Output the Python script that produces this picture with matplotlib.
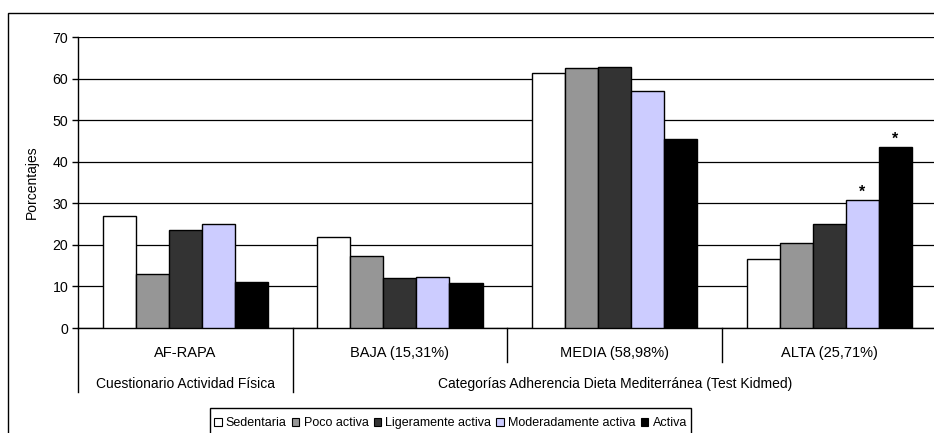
import matplotlib
matplotlib.use("Agg")
import matplotlib.pyplot as plt
from matplotlib.patches import Rectangle
from matplotlib.lines import Line2D
import numpy as np

plt.rcParams['font.family'] = ['Liberation Sans', 'DejaVu Sans']

groups = ["AF-RAPA", "BAJA (15,31%)", "MEDIA (58,98%)", "ALTA (25,71%)"]
series = ["Sedentaria", "Poco activa", "Ligeramente activa", "Moderadamente activa", "Activa"]
sedentaria = [26.9, 21.8, 61.3, 16.5]
poco_activa = [12.9, 17.2, 62.5, 20.4]
ligeramente = [23.6, 12.0, 62.9, 24.9]
moderadamente = [25.1, 12.2, 56.9, 30.7]
activa = [11.1, 10.9, 45.5, 43.5]
values = [sedentaria, poco_activa, ligeramente, moderadamente, activa]
colors = ["#FFFFFF", "#969696", "#333333", "#CCCCFF", "#000000"]
yticks = [0, 10, 20, 30, 40, 50, 60, 70]
# significance markers: (series index, group index)
stars = [(3, 3), (4, 3)]
level2 = [("Cuestionario Actividad Física", 0.0), ("Categorías Adherencia Dieta Mediterránea (Test Kidmed)", 2.0)]

W, H = 934, 433
fig = plt.figure(figsize=(W / 100, H / 100), dpi=100)

# outer chart frame
fig.patches.append(Rectangle((8 / W, -0.2), 1.2, 1 - 13 / H + 0.2, transform=fig.transFigure,
                             fill=False, edgecolor="black", lw=1.0))

ax_l, ax_r, ax_t, ax_b = 77.9, 936.7, 37, 328
ax = fig.add_axes([ax_l / W, 1 - ax_b / H, (ax_r - ax_l) / W, (ax_b - ax_t) / H])

x = np.arange(len(groups))
bw = 1 / 6.5
for i, (vals, c, name) in enumerate(zip(values, colors, series)):
    ax.bar(x + (i - 2) * bw, vals, width=bw, color=c, edgecolor="black", lw=1.0,
           label=name, zorder=3)

for si, gi in stars:
    ax.annotate("*", (x[gi] + (si - 2) * bw, values[si][gi]), xytext=(0, 0.5),
                textcoords="offset points", ha="center", va="bottom", fontsize=11.5,
                fontweight="bold")

ax.set_xlim(-0.5, 3.5)
ax.set_ylim(0, 70)
ax.set_yticks(yticks)
ax.set_yticklabels([str(v) for v in yticks], fontsize=10.2)
ax.yaxis.grid(True, color="black", lw=0.9)
ax.set_axisbelow(True)
ax.tick_params(axis="y", direction="out", length=4, width=1, pad=3)
ax.set_xticks([])
for s in ["top", "right"]:
    ax.spines[s].set_visible(False)
ax.spines["left"].set_linewidth(1.0)
ax.spines["bottom"].set_linewidth(1.0)
ax.set_ylabel("Porcentajes", fontsize=10, labelpad=10)

# multi-level category axis
ah = ax_b - ax_t
trans = ax.get_xaxis_transform()
long_y = -(392 - ax_b) / ah
short_y = -(362 - ax_b) / ah
for xs, yl in [(-0.5, long_y), (0.5, long_y), (1.5, short_y), (2.5, short_y), (3.5, long_y)]:
    ax.add_line(Line2D([xs, xs], [0, yl], transform=trans, color="black", lw=1.0, clip_on=False))
for gi, g in enumerate(groups):
    ax.text(x[gi], -(353 - ax_b) / ah, g, transform=trans, ha="center", va="center", fontsize=10.5)
for txt, xc in level2:
    ax.text(xc, -(384 - ax_b) / ah, txt, transform=trans, ha="center", va="center", fontsize=10)

leg = fig.legend(loc="center left", bbox_to_anchor=(214 / W, 1 - 423 / H), ncol=5,
                 fontsize=9.0, frameon=False, borderaxespad=0, borderpad=0,
                 handlelength=0.6, handleheight=0.6, handletextpad=0.35,
                 columnspacing=0.4)
for h in leg.legend_handles:
    h.set_linewidth(0.8)

fig.canvas.draw()
bb = leg.get_window_extent()
x0 = (bb.x0 - 4) / W
x1 = (bb.x1 + 4) / W
top = 1 - 408 / H
fig.patches.append(Rectangle((x0, -0.1), x1 - x0, top + 0.1, transform=fig.transFigure,
                             fill=False, edgecolor="black", lw=1.0))

fig.savefig("out.png", dpi=100)
